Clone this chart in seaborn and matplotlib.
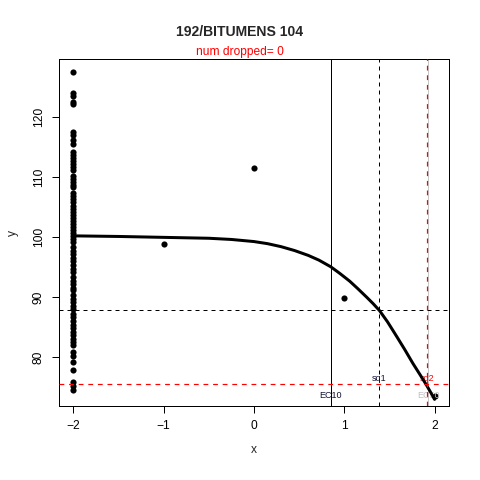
import matplotlib
matplotlib.use("Agg")
import matplotlib.pyplot as plt
import seaborn as sns
import pandas as pd

# observed responses at each log dose
control_x = -2
control_y = [127.6, 124.0, 123.5, 122.6, 122.2, 117.6, 117.1, 116.3, 115.5,
             114.2, 113.7, 113.2, 112.7, 112.2, 111.7, 111.2, 110.2, 109.7,
             109.2, 108.7, 108.4, 107.4, 106.9, 106.4, 105.9, 105.2, 104.7,
             104.2, 103.7, 103.2, 102.7, 102.2, 101.7, 101.2, 100.7, 100.2,
             99.7, 99.3,
             98.4, 97.8, 97.2, 96.6, 96.0, 95.4, 94.8, 94.3,
             93.4, 92.8, 92.2, 91.6, 91.2,
             90.4, 89.8, 89.2, 88.6, 88.0, 87.3, 86.7, 86.0, 85.4,
             84.9, 84.3, 83.7, 83.1, 82.5, 82.1,
             80.9, 80.3, 79.3, 77.9, 75.9, 75.3, 74.6]
dose_x = [-1, 0, 1, 2]
dose_y = [98.9, 111.5, 89.9, 73.5]

# fitted curve
curve_x = [-2.0, -1.5, -1.0, -0.5, -0.25, 0.0, 0.15, 0.3, 0.45, 0.6, 0.72,
           0.85, 0.95, 1.06, 1.15, 1.25, 1.32, 1.39, 1.48, 1.58, 1.67, 1.76,
           1.84, 1.91, 1.96, 2.0]
curve_y = [100.25, 100.15, 100.0, 99.85, 99.65, 99.3, 98.95, 98.45, 97.8, 97.0,
           96.2, 95.1, 94.0, 92.7, 91.45, 90.0, 88.95, 87.8, 85.9, 83.5, 81.3,
           79.0, 77.1, 75.4, 74.1, 73.0]

ec10 = 0.851
ec50 = 1.93
sq1_x, sq1_y = 1.381, 87.9
sq2_x, sq2_y = 1.912, 75.55

title = "192/BITUMENS 104"
subtitle = "num dropped= 0"

points = pd.DataFrame({
    "x": [control_x] * len(control_y) + dose_x,
    "y": control_y + dose_y,
})
curve = pd.DataFrame({"x": curve_x, "y": curve_y})

sns.set_style("ticks")
plt.rcParams["font.family"] = ["Liberation Sans", "DejaVu Sans"]

fig = plt.figure(figsize=(480 / 72, 480 / 72), dpi=72)
ax = fig.add_axes([59 / 480, 74 / 480, 390 / 480, 346.7 / 480])

sns.scatterplot(data=points, x="x", y="y", ax=ax, color="black", s=38,
                linewidth=0, zorder=3)
sns.lineplot(data=curve, x="x", y="y", ax=ax, color="black", linewidth=3,
             zorder=4)

ax.axvline(ec10, color="black", linewidth=1, zorder=2)
ax.axvline(ec50, color="#c8c8c8", linewidth=1, zorder=2)
ax.axvline(sq1_x, color="black", linewidth=1, linestyle=(0, (4, 4)), zorder=2)
ax.axhline(sq1_y, color="black", linewidth=1, linestyle=(0, (4, 4)), zorder=2)
ax.axvline(sq2_x, color="red", linewidth=1.2, linestyle=(0, (4, 4)), zorder=5)
ax.axhline(sq2_y, color="red", linewidth=1.2, linestyle=(0, (4, 4)), zorder=5)

ax.text(ec10, 73.7, "EC10", fontsize=9, ha="center", va="center", color="#111133")
ax.text(sq1_x, 76.4, "sq1", fontsize=9, ha="center", va="center", color="#111133")
ax.text(sq2_x, 76.4, "sq2", fontsize=9, ha="center", va="center", color="red")
ax.text(ec50, 73.7, "EC50", fontsize=9, ha="center", va="center", color="#c0c0c0")

ax.set_xlim(-2.16, 2.16)
ax.set_ylim(71.9, 129.67)
ax.set_xticks([-2, -1, 0, 1, 2])
ax.set_yticks([80, 90, 100, 110, 120])
ax.tick_params(axis="both", direction="out", length=7, width=1, labelsize=12,
               color="black", labelcolor="black")
ax.tick_params(axis="x", pad=7)
ax.tick_params(axis="y", pad=7)
for lab in ax.get_yticklabels():
    lab.set_rotation(90)
    lab.set_va("center")
for sp in ax.spines.values():
    sp.set_visible(True)
    sp.set_color("black")
    sp.set_linewidth(1)

ax.set_xlabel("x", fontsize=12, labelpad=12)
ax.set_ylabel("y", fontsize=12, labelpad=14)

fig.text(0.5, 1 - 32 / 480, title, fontsize=14, fontweight="bold",
         ha="center", va="center")
fig.text(0.5, 1 - 52 / 480, subtitle, fontsize=12, color="red",
         ha="center", va="center")

fig.savefig("out.png", dpi=72, facecolor="white")
